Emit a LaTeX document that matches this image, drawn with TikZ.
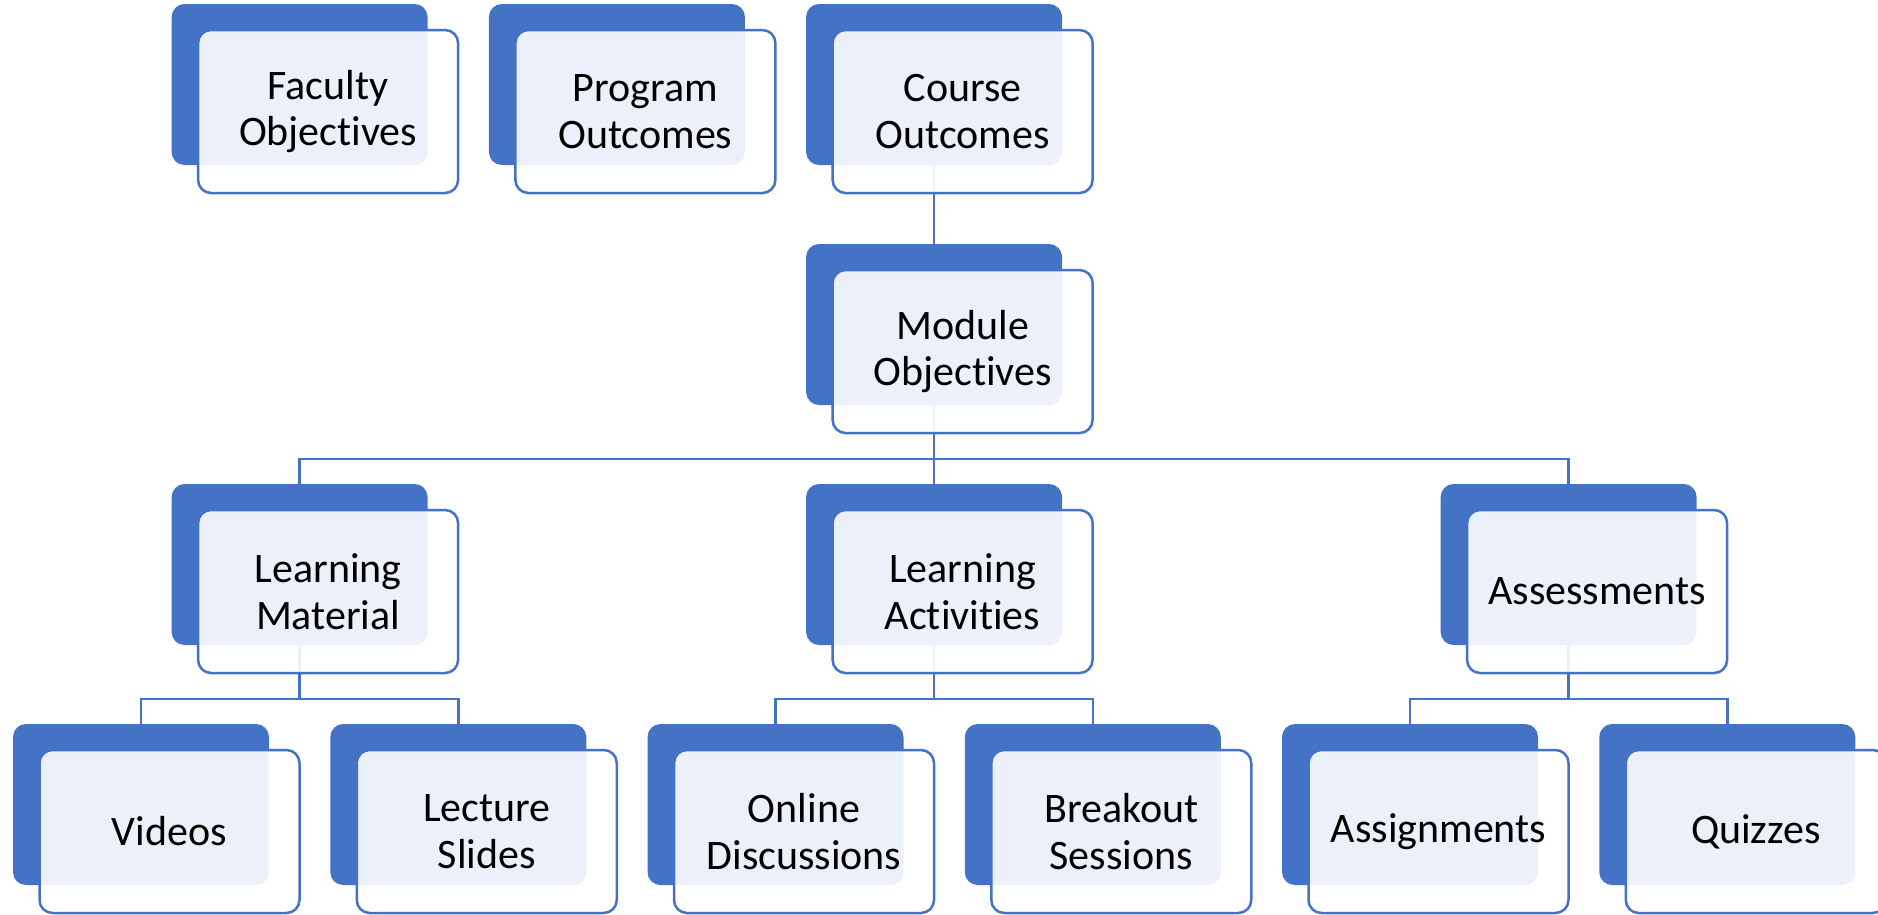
\documentclass[tikz,border=0pt]{standalone}
\usepackage{fontspec}
\setmainfont{Carlito}[RawFeature=-liga]
\definecolor{sablue}{HTML}{4472C4}
\tikzset{
  backbox/.style={fill=sablue, rounded corners=13pt, minimum width=256pt, minimum height=161pt, inner sep=0pt},
  frontbox/.style={fill=white, fill opacity=0.9, text opacity=1, draw=sablue, draw opacity=1, line width=2.5pt,
    rounded corners=13pt, minimum width=260pt, minimum height=163pt, inner sep=0pt, align=center,
    font=\fontsize{42}{46.5}\selectfont},
  link/.style={draw=sablue, line width=2.5pt},
  hub/.style={inner sep=0pt, minimum size=0pt}
}
\newcommand\smbox[4]{%
  \node[backbox] (#1b) at (#2,#3) {};
  \node[frontbox] (#1) at ([shift={(28.5,27)}]#1b.center) {#4};
}
\begin{document}
\begin{tikzpicture}[x=1pt,y=-1pt]
\path[use as bounding box] (0,0) rectangle (1878,914);
\clip (0,0) rectangle (1878,914);
% junctions of connectors
\coordinate (j1) at (934.1,459);
\coordinate (j2) at (299.6,699);
\coordinate (j3) at (934.1,699);
\coordinate (j4) at (1568.6,699);
% box centres for the connectors (drawn first, behind boxes)
\node[hub] (cobc) at (934.1,84.5) {};
\node[hub] (mobc) at (934.1,324.5) {};
\node[hub] (lmbc) at (299.6,564.5) {};
\node[hub] (labc) at (934.1,564.5) {};
\node[hub] (asbc) at (1568.6,564.5) {};
\node[hub] (vibc) at (141,804.5) {};
\node[hub] (lsbc) at (458.25,804.5) {};
\node[hub] (odbc) at (775.5,804.5) {};
\node[hub] (bsbc) at (1092.75,804.5) {};
\node[hub] (agbc) at (1410,804.5) {};
\node[hub] (qzbc) at (1727.25,804.5) {};
\draw[link] (cobc) -- (mobc);
\draw[link] (mobc) -- (j1);
\draw[link] (lmbc) |- (j1) -| (asbc);
\draw[link] (labc) -- (j1);
\draw[link] (lmbc) -- (j2);
\draw[link] (vibc) |- (j2) -| (lsbc);
\draw[link] (labc) -- (j3);
\draw[link] (odbc) |- (j3) -| (bsbc);
\draw[link] (asbc) -- (j4);
\draw[link] (agbc) |- (j4) -| (qzbc);
% boxes
\smbox{fo}{299.6}{84.5}{Faculty\\Objectives}
\smbox{po}{616.9}{84.5}{Program\\Outcomes}
\smbox{co}{934.1}{84.5}{Course\\Outcomes}
\smbox{mo}{934.1}{324.5}{Module\\Objectives}
\smbox{lm}{299.6}{564.5}{Learning\\Material}
\smbox{la}{934.1}{564.5}{Learning\\Activities}
\smbox{as}{1568.6}{564.5}{Assessments}
\smbox{vi}{141}{804.5}{Videos}
\smbox{ls}{458.25}{804.5}{Lecture\\Slides}
\smbox{od}{775.5}{804.5}{Online\\Discussions}
\smbox{bs}{1092.75}{804.5}{Breakout\\Sessions}
\smbox{ag}{1410}{804.5}{Assignments}
\smbox{qz}{1727.25}{804.5}{Quizzes}
\end{tikzpicture}
\end{document}
